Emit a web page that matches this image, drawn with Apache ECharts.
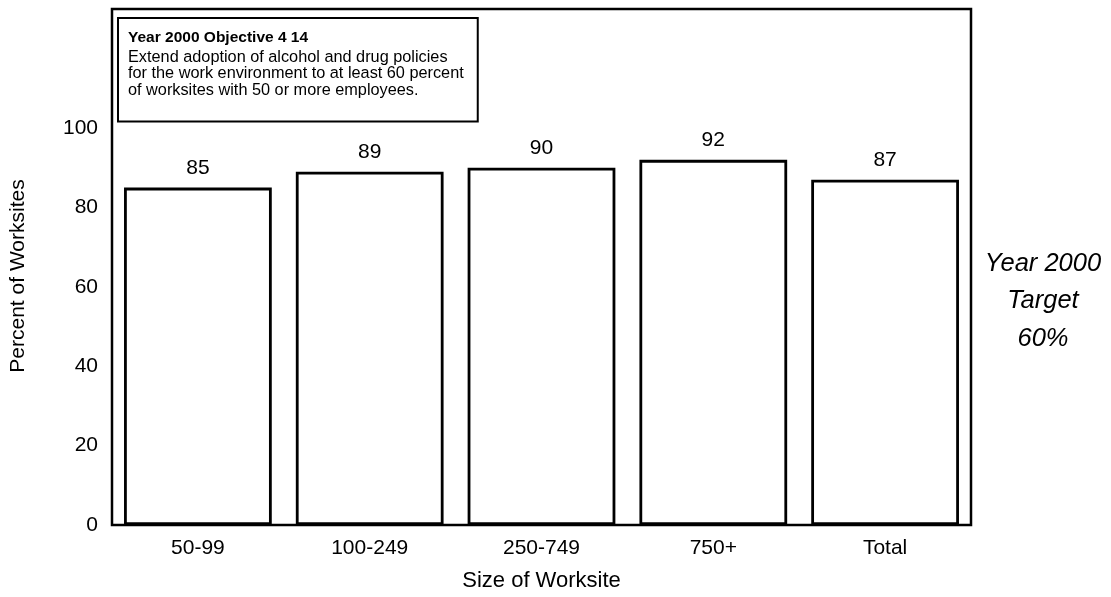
<!DOCTYPE html>
<html>
<head>
<meta charset="utf-8">
<script src="https://cdn.jsdelivr.net/npm/echarts@6/dist/echarts.min.js"></script>
<style>
  html, body { margin: 0; padding: 0; background: #ffffff; }
  #chart { width: 1111px; height: 597px; }
</style>
</head>
<body>
<div id="chart"></div>
<script>
// Share of worksites with alcohol and drug policies, by worksite size
const categories = ['50-99', '100-249', '250-749', '750+', 'Total'];
const percentValues = [85, 89, 90, 92, 87];
const yTickLabels = [0, 20, 40, 60, 80, 100];

const yAxisTitle = 'Percent of Worksites';
const xAxisTitle = 'Size of Worksite';
const objectiveTitle = 'Year 2000 Objective 4 14';
const objectiveLines = [
  'Extend adoption of alcohol and drug policies',
  'for the work environment to at least 60 percent',
  'of worksites with 50 or more employees.'
];
const targetLines = ['Year 2000', 'Target', '60%'];

const FONT = '"Liberation Sans", Arial, Helvetica, sans-serif';

const chart = echarts.init(document.getElementById('chart'), null, { renderer: 'canvas' });

chart.setOption({
  backgroundColor: '#ffffff',
  animation: false,
  grid: {
    left: 112,
    right: 140,
    top: 9,
    bottom: 68,
    show: true,
    borderColor: '#000000',
    borderWidth: 2.5,
    backgroundColor: 'transparent'
  },
  xAxis: {
    type: 'category',
    data: categories,
    name: xAxisTitle,
    nameLocation: 'middle',
    nameGap: 45,
    nameTextStyle: { color: '#000', fontFamily: FONT, fontSize: 22 },
    axisLine: { show: false },
    axisTick: { show: false },
    axisLabel: { color: '#000', fontFamily: FONT, fontSize: 21, margin: 13 },
    splitLine: { show: false }
  },
  yAxis: {
    type: 'value',
    min: 0,
    max: 130,
    interval: 20,
    axisLine: { show: false },
    axisTick: { show: false },
    splitLine: { show: false },
    axisLabel: {
      color: '#000',
      fontFamily: FONT,
      fontSize: 21,
      margin: 14,
      formatter: function (v) {
        return yTickLabels.indexOf(v) >= 0 ? String(v) : '';
      }
    }
  },
  series: [{
    type: 'bar',
    data: percentValues,
    barWidth: '86%',
    itemStyle: {
      color: '#ffffff',
      borderColor: '#000000',
      borderWidth: 2.8
    },
    label: {
      show: true,
      position: 'top',
      distance: 9,
      color: '#000',
      fontFamily: FONT,
      fontSize: 21
    }
  }],
  graphic: [
    {
      // rotated y-axis title
      type: 'text',
      x: 18,
      y: 276,
      rotation: Math.PI / 2,
      style: {
        text: yAxisTitle,
        fill: '#000',
        fontFamily: FONT,
        fontSize: 21,
        align: 'center',
        verticalAlign: 'middle'
      }
    },
    {
      // objective statement box in the upper-left corner
      type: 'text',
      left: 117,
      top: 17,
      z: 10,
      style: {
        text: '{t|' + objectiveTitle + '}\n' + objectiveLines.map(l => '{b|' + l + '}').join('\n'),
        fill: '#000',
        backgroundColor: '#ffffff',
        borderColor: '#000000',
        borderWidth: 2,
        padding: [8, 13, 22, 9],
        rich: {
          t: { fontFamily: FONT, fontSize: 15.5, fontWeight: 'bold', lineHeight: 22, fill: '#000' },
          b: { fontFamily: FONT, fontSize: 16.3, lineHeight: 16.5, fill: '#000' }
        }
      }
    },
    {
      // target note to the right of the plot
      type: 'text',
      x: 1043,
      y: 245,
      z: 10,
      style: {
        text: targetLines.join('\n'),
        fill: '#000',
        fontFamily: FONT,
        fontSize: 25.5,
        fontStyle: 'italic',
        lineHeight: 37.5,
        align: 'center',
        verticalAlign: 'top'
      }
    }
  ]
});
</script>
</body>
</html>
